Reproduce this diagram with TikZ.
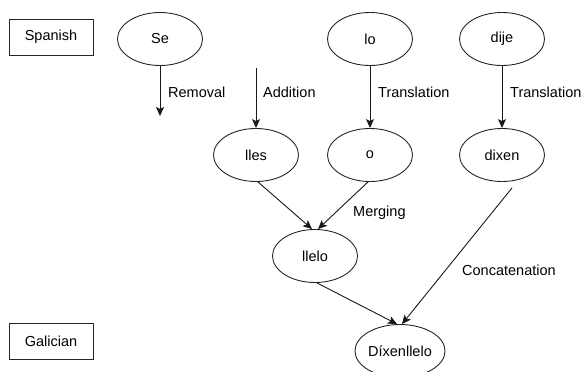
\documentclass[tikz,border=0pt]{standalone}
\usepackage{fontspec}
\setmainfont{Liberation Sans}
\usetikzlibrary{shapes.geometric,arrows.meta}
\begin{document}
\begin{tikzpicture}[x=1pt,y=-1pt,
  font=\fontsize{14.5}{16}\selectfont,
  lang/.style={draw=black!85,line width=0.9pt,minimum width=84pt,minimum height=36pt,inner sep=0pt},
  word/.style={draw=black!85,line width=0.9pt,ellipse,minimum width=85pt,minimum height=53pt,inner sep=0pt},
  lbl/.style={inner sep=0pt,anchor=west},
  conn/.style={draw=black!90,line width=0.9pt,-{Stealth[length=9pt,width=8pt,inset=2pt]}}]
\useasboundingbox (0,0) rectangle (584,372);
% language boxes
\node[lang] (spanish) at (51,37) {Spanish};
\node[lang] (galician) at (51,341) {Galician};
% top row
\node[word] (se) at (160,39) {Se};
\node[word] (lo) at (370,39) {lo};
\node[word] (dije) at (502,39) {dije};
% second row
\node[word] (lles) at (256,155) {lles};
\node[word] (o) at (370,155) {o};
\node[word] (dixen) at (502,155) {dixen};
% third
\node[word] (llelo) at (315,256) {llelo};
\node[word] (dx) at (400,351) {Díxenllelo};
% free ends
\coordinate (remend) at (160,116);
\coordinate (addstart) at (256,68);
% connectors
\draw[conn] (se.south) -- (remend);
\draw[conn] (addstart) -- (lles.north);
\draw[conn] (lo.south) -- (o.north);
\draw[conn] (dije.south) -- (dixen.north);
\draw[conn] ([xshift=2pt]lles.south) -- ([xshift=-3pt]llelo.north);
\draw[conn] ([xshift=-2pt]o.south) -- ([xshift=3pt]llelo.north);
\draw[conn] ([xshift=2pt]llelo.south) -- ([xshift=-3pt]dx.north);
\draw[conn] ([xshift=10pt,yshift=-6pt]dixen.south) -- ([xshift=2pt]dx.north);
% labels
\node[lbl] (lrem) at (168,92) {Removal};
\node[lbl] (ladd) at (263,92) {Addition};
\node[lbl] (ltr1) at (378,92) {Translation};
\node[lbl] (ltr2) at (510,92) {Translation};
\node[lbl] (lmer) at (353,213) {Merging};
\node[lbl] (lcon) at (462,270) {Concatenation};
\end{tikzpicture}
\end{document}
